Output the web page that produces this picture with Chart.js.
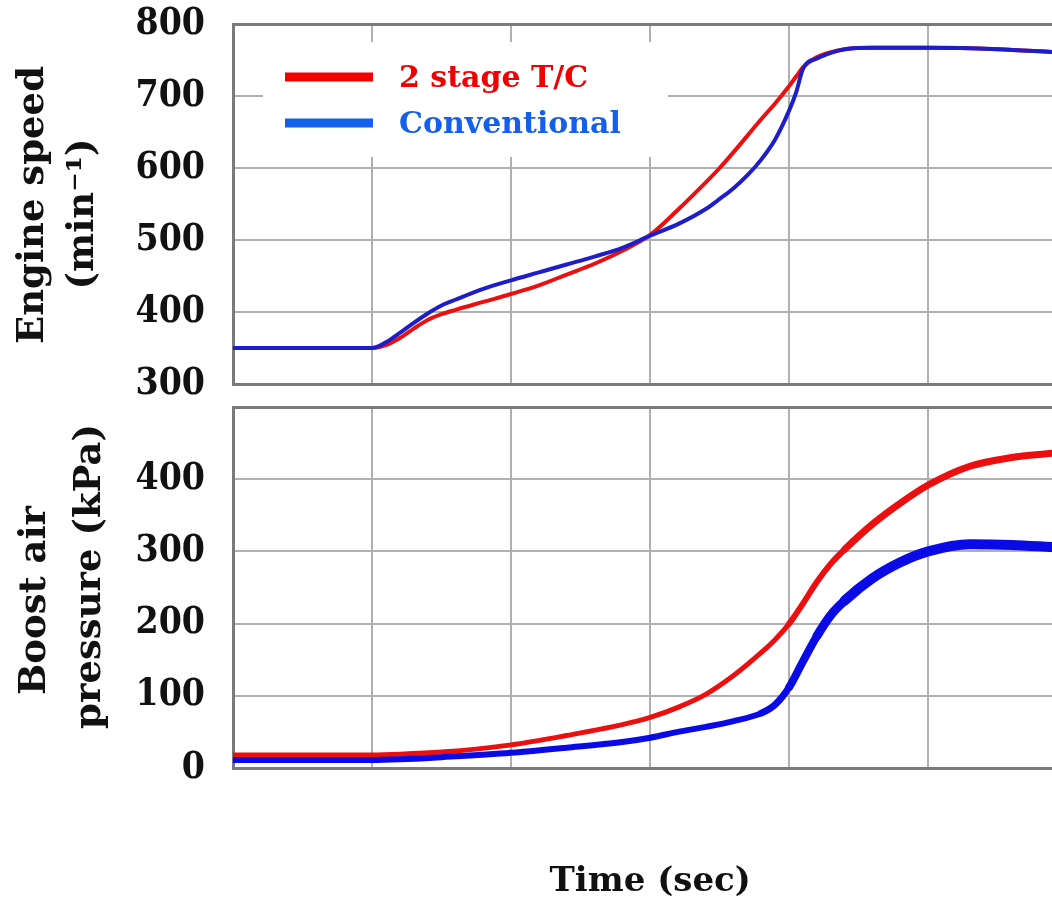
<!DOCTYPE html>
<html><head><meta charset="utf-8">
<script src="https://cdn.jsdelivr.net/npm/chart.js@4.4.1/dist/chart.umd.min.js"></script>
<style>
html,body{margin:0;padding:0;background:#fff;overflow:hidden;}
#wrap{position:relative;width:1052px;height:907px;}
canvas{position:absolute;left:0;}
#c1{top:0;}
#c2{top:395px;}
</style></head><body>
<div id="wrap"><canvas id="c1" width="1052" height="400"></canvas><canvas id="c2" width="1052" height="512"></canvas></div>
<script>
// ---- data (x in grid divisions of time) ----
const seriesNames = ['2 stage T/C', 'Conventional'];
const speedTime = [0, 0.5, 1.0, 1.1, 1.2, 1.3, 1.4, 1.5, 1.6, 1.8, 2.0, 2.2, 2.4, 2.6, 2.8, 3.0, 3.2, 3.4, 3.5, 3.6, 3.7, 3.8, 3.9, 4.0, 4.05, 4.1, 4.2, 4.3, 4.4, 4.6, 5.0, 5.5, 5.89];
const speed2Stage = [350,350,350,354,364,377,389,397,403,414,425,437,452,467,485,507,542,580,600,622,645,668,690,714,727,740,754,761,765,767,767,765,761];
const speedConventional = [350,350,350,358,371,385,398,409,417,432,444,455,466,477,489,506,522,543,557,572,590,612,640,680,705,738,752,760,765,767,767,765,761];
const boostTime = [0, 0.5, 1.0, 1.2, 1.5, 2.0, 2.4, 2.8, 3.0, 3.2, 3.4, 3.6, 3.8, 3.9, 4.0, 4.1, 4.2, 4.3, 4.4, 4.6, 4.8, 5.0, 5.3, 5.6, 5.89];
const boost2Stage = [18,18,18,19,22,32,45,60,70,84,102,128,160,178,200,228,258,283,303,338,367,392,418,430,436];
const boostConventional = [11,11,11,12,15,21,28,36,42,50,57,65,76,88,112,148,183,212,232,263,285,300,310,309,306];
const speedTicks = [300,400,500,600,700,800];
const boostTicks = [0,100,200,300,400];
const speedTitle = ['Engine speed', '(min\u207B\u00B9)'];
const boostTitle = ['Boost air', 'pressure (kPa)'];
const xTitle = 'Time (sec)';
const X_MIN = 0, X_MAX = 5.89;

// ---- styles ----
const SERIF = '"DejaVu Serif", serif';
const SERIF_C = '"DejaVu Serif Condensed", "DejaVu Serif", serif';
const GRID = '#b0b0b0';
const BORDER = '#7a7a7a';
const RED = 'rgb(235,15,15)';
const BLUE = 'rgb(30,30,200)';
const BLUE2 = 'rgb(10,10,230)';
const LEG_RED = 'rgb(240,0,0)';
const LEG_BLUE = 'rgb(20,95,235)';

function pts(t, v){ return t.map((x,i)=>({x:x, y:v[i]})); }

const panelText = {
  id: 'panelText',
  afterDraw(chart, args, opts){
    const ctx = chart.ctx, a = chart.chartArea;
    const mid = (a.top + a.bottom) / 2;
    ctx.save();
    ctx.fillStyle = '#111';
    ctx.textAlign = 'center';
    ctx.textBaseline = 'middle';
    (opts.yTitle || []).forEach(t => {
      ctx.save();
      ctx.translate(a.left - t.dx, mid + t.dy);
      ctx.rotate(-Math.PI/2);
      ctx.font = 'bold ' + opts.titleSize + 'px ' + SERIF;
      ctx.fillText(t.text, 0, 0);
      ctx.restore();
    });
    if (opts.legend) {
      const L = opts.legend;
      ctx.fillStyle = '#fff';
      ctx.fillRect(L.x, L.y, L.w, L.h);
      L.items.forEach((it, i) => {
        const y = L.y + L.first + i * L.gap;
        ctx.strokeStyle = it.color;
        ctx.lineWidth = 9;
        ctx.beginPath();
        ctx.moveTo(L.x + 22, y);
        ctx.lineTo(L.x + 110, y);
        ctx.stroke();
        ctx.fillStyle = it.color;
        ctx.textAlign = 'left';
        ctx.font = 'bold ' + L.size + 'px ' + SERIF;
        ctx.fillText(it.text, L.x + 136, y + 2);
      });
    }
    if (opts.xTitle) {
      ctx.fillStyle = '#111';
      ctx.textAlign = 'center';
      ctx.font = 'bold ' + opts.xTitle.size + 'px ' + SERIF;
      ctx.fillText(opts.xTitle.text, chart.scales.x.getPixelForValue(3), opts.xTitle.y);
    }
    ctx.restore();
  }
};

function makeOptions(ymin, ymax, tickList, padTop, padBottom, textOpts){
  return {
    responsive: false,
    animation: false,
    layout: { padding: { top: padTop, bottom: padBottom, left: 0, right: 0 } },
    plugins: { legend: { display: false }, tooltip: { enabled: false }, panelText: textOpts },
    scales: {
      x: {
        type: 'linear', min: X_MIN, max: X_MAX,
        ticks: { display: false, stepSize: 1, includeBounds: false },
        grid: { color: GRID, lineWidth: 2, drawTicks: false },
        border: { display: true, color: BORDER, width: 3 },
        afterFit(s){ s.height = 0; s.paddingLeft = 0; s.paddingRight = 0; s.paddingTop = 0; s.paddingBottom = 0; }
      },
      y: {
        min: ymin, max: ymax,
        ticks: {
          stepSize: 100, padding: 28, color: '#111',
          font: { family: SERIF_C, size: 37, weight: 'bold' },
          callback: v => tickList.includes(v) ? String(v) : ''
        },
        grid: {
          drawTicks: false,
          color: c => (c.tick && c.tick.value === ymax) ? BORDER : GRID,
          lineWidth: c => (c.tick && c.tick.value === ymax) ? 3 : 2
        },
        border: { color: BORDER, width: 3 },
        afterFit(s){ s.width = 233; s.paddingTop = 0; s.paddingBottom = 0; s.paddingLeft = 0; s.paddingRight = 0; }
      }
    }
  };
}

new Chart(document.getElementById('c1'), {
  type: 'line',
  data: { datasets: [
    { label: seriesNames[0], data: pts(speedTime, speed2Stage), borderColor: RED, borderWidth: 4, pointRadius: 0, cubicInterpolationMode: 'monotone', order: 1 },
    { label: seriesNames[1], data: pts(speedTime, speedConventional), borderColor: BLUE, borderWidth: 4, pointRadius: 0, cubicInterpolationMode: 'monotone', order: 0 }
  ]},
  options: makeOptions(300, 800, speedTicks, 24, 16, {
    titleSize: 37,
    yTitle: [ { text: speedTitle[0], dx: 200, dy: 1 }, { text: speedTitle[1], dx: 150, dy: 10 } ],
    legend: { x: 263, y: 42, w: 405, h: 115, first: 35, gap: 46, size: 30,
      items: [ { text: seriesNames[0], color: LEG_RED }, { text: seriesNames[1], color: LEG_BLUE } ] }
  }),
  plugins: [panelText]
});

function widthStep(x, steps){ let w = steps[0][1]; steps.forEach(s => { if (x >= s[0]) w = s[1]; }); return w; }
const redSteps = [[0,5],[4.0,6],[4.4,7]];
const blueSteps = [[0,6],[3.8,7],[4.0,8],[4.2,9],[4.4,10]];

new Chart(document.getElementById('c2'), {
  type: 'line',
  data: { datasets: [
    { label: seriesNames[0], data: pts(boostTime, boost2Stage), borderColor: RED, borderWidth: 6, pointRadius: 0, cubicInterpolationMode: 'monotone', order: 1,
      borderCapStyle: 'round', borderJoinStyle: 'round',
      segment: { borderWidth: c => widthStep(c.p0.parsed.x, redSteps) } },
    { label: seriesNames[1], data: pts(boostTime, boostConventional), borderColor: BLUE2, borderWidth: 8, pointRadius: 0, cubicInterpolationMode: 'monotone', order: 0,
      borderCapStyle: 'round', borderJoinStyle: 'round',
      segment: { borderWidth: c => widthStep(c.p0.parsed.x, blueSteps) } }
  ]},
  options: makeOptions(0, 500, boostTicks, 12, 139, {
    titleSize: 37,
    yTitle: [ { text: boostTitle[0], dx: 198, dy: 13 }, { text: boostTitle[1], dx: 143, dy: -11 } ],
    xTitle: { text: xTitle, y: 487, size: 34 }
  }),
  plugins: [panelText]
});
</script>
</body></html>
